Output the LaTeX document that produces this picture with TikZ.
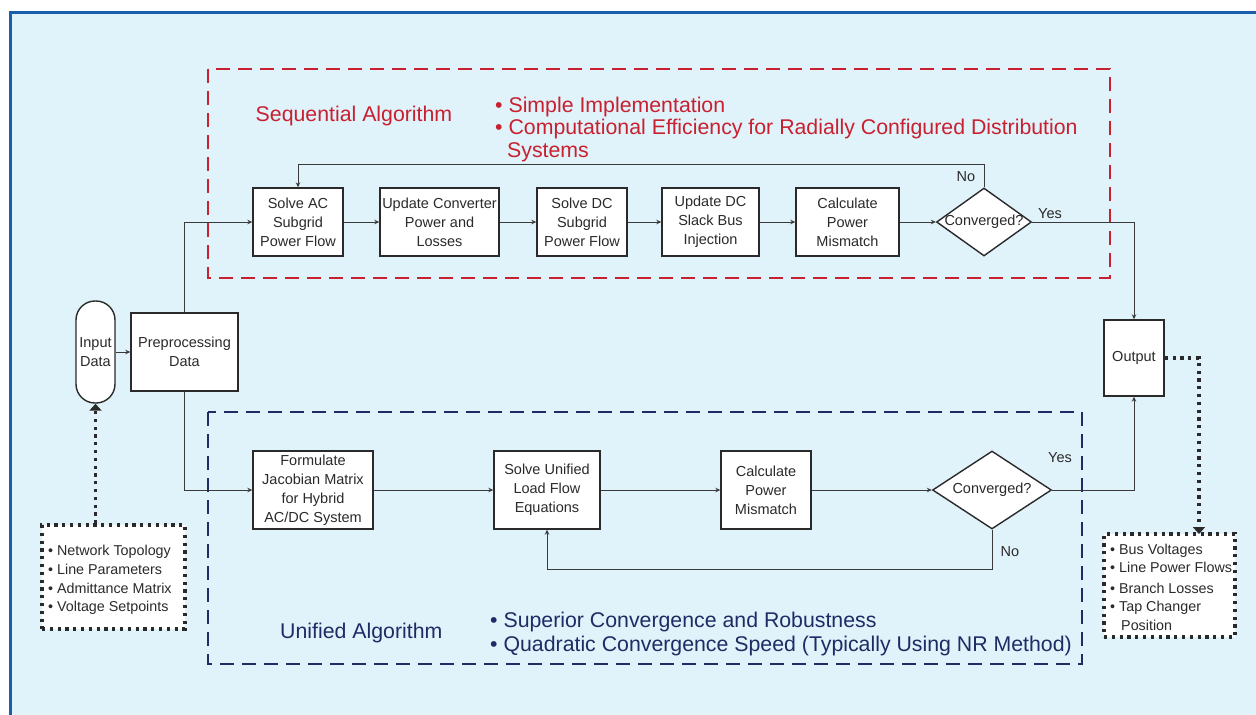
\documentclass[tikz,border=0pt]{standalone}
\usepackage{fontspec}
\setmainfont{Liberation Sans}
\usetikzlibrary{arrows.meta,shapes.geometric}
\definecolor{bgblue}{HTML}{E0F2FA}
\definecolor{frameblue}{HTML}{1B5EAB}
\definecolor{seqred}{HTML}{C8202F}
\definecolor{uninavy}{HTML}{1E2C66}
\definecolor{ink}{HTML}{2A2A2A}
\definecolor{wire}{HTML}{3A3A3A}
\begin{document}
\begin{tikzpicture}[x=1pt,y=-1pt,
  box/.style={draw=ink, fill=white, line width=1.4pt, align=center, inner sep=0pt, text=ink, font=\fontsize{14.5}{19}\selectfont},
  dia/.style={diamond, draw=ink, fill=white, line width=1.4pt, inner sep=0pt},
  lbl/.style={text=ink, font=\fontsize{14.5}{19}\selectfont, inner sep=0pt},
  listtxt/.style={text=ink, font=\fontsize{14.3}{19}\selectfont, inner sep=0pt, anchor=base west},
  arr/.style={draw=wire, line width=0.9pt, -{Stealth[length=5pt,width=4.5pt]}},
  dotline/.style={draw=ink, line width=3.2pt, dash pattern=on 3.2pt off 4.6pt},
  dotarr/.style={dotline, -{Triangle[length=7pt,width=12pt]}},
  dotbox/.style={dotline, fill=white, inner sep=0pt},
  redtxt/.style={text=seqred, font=\fontsize{21.3}{23}\selectfont, inner sep=0pt, anchor=base west},
  bluetxt/.style={text=uninavy, font=\fontsize{21.3}{23}\selectfont, inner sep=0pt, anchor=base west},
  reddash/.style={draw=seqred, line width=2pt, dash pattern=on 14pt off 8pt},
  bluedash/.style={draw=uninavy, line width=2pt, dash pattern=on 14pt off 8pt}
]
\useasboundingbox (0,0) rectangle (1256,715);
% background frame
\fill[bgblue] (10,12) rectangle (1256,715);
\draw[frameblue, line width=2.6pt] (10.5,715) -- (10.5,12.5) -- (1256,12.5);

% group frames
\draw[reddash] (208,69) rectangle (1110,278);
\draw[bluedash] (208,412) rectangle (1082,664);

% group titles and notes
\node[redtxt, anchor=base] (seqt) at (354,121) {Sequential Algorithm};
\node[redtxt] (seq1) at (495,112) {\textbullet\ Simple Implementation};
\node[redtxt] (seq2) at (495,134) {\textbullet\ Computational Efficiency for Radially Configured Distribution};
\node[redtxt] (seq3) at (507,157) {Systems};

\node[bluetxt] (unit) at (280,638) {Unified Algorithm};
\node[bluetxt] (uni1) at (490,627) {\textbullet\ Superior Convergence and Robustness};
\node[bluetxt] (uni2) at (490,651) {\textbullet\ Quadratic Convergence Speed (Typically Using NR Method)};

% left part
\node[box, rounded corners=19pt, minimum width=39pt, minimum height=102pt] (inp) at (95.5,352) {Input\\Data};
\node[box, minimum width=107pt, minimum height=78pt] (pre) at (184.5,352) {Preprocessing\\Data};
\node[dotbox, minimum width=143pt, minimum height=104pt] (inlist) at (113.5,577) {};
\node[listtxt] (in1) at (48,555) {\textbullet\ Network Topology};
\node[listtxt] (in2) at (48,574) {\textbullet\ Line Parameters};
\node[listtxt] (in3) at (48,593) {\textbullet\ Admittance Matrix};
\node[listtxt] (in4) at (48,611) {\textbullet\ Voltage Setpoints};

% sequential row
\node[box, minimum width=90pt, minimum height=68pt] (sac) at (298,222) {Solve AC\\Subgrid\\Power Flow};
\node[box, minimum width=119pt, minimum height=68pt] (ucp) at (439.5,222) {Update Converter\\Power and\\Losses};
\node[box, minimum width=90pt, minimum height=68pt] (sdc) at (582,222) {Solve DC\\Subgrid\\Power Flow};
\node[box, minimum width=97pt, minimum height=68pt] (udc) at (710.5,222) {Update DC\\Slack Bus\\Injection};
\node[box, minimum width=103pt, minimum height=68pt] (cpa) at (847.5,222) {Calculate\\Power\\Mismatch};
\node[dia, minimum width=95pt, minimum height=68pt] (cva) at (984,222) {};
\node[lbl] (cvat) at (cva.center) {Converged?};

% unified row
\node[box, minimum width=120pt, minimum height=78pt] (form) at (313,490) {Formulate\\Jacobian Matrix\\for Hybrid\\AC/DC System};
\node[box, minimum width=106pt, minimum height=78pt] (suf) at (547,490) {Solve Unified\\Load Flow\\Equations};
\node[box, minimum width=90pt, minimum height=78pt] (cpb) at (766,490) {Calculate\\Power\\Mismatch};
\node[dia, minimum width=119pt, minimum height=78pt] (cvb) at (992,490) {};
\node[lbl] (cvbt) at (cvb.center) {Converged?};

% output
\node[box, minimum width=60pt, minimum height=76pt] (out) at (1134,358) {Output};
\node[dotbox, minimum width=131pt, minimum height=103pt] (outlist) at (1169.5,585.5) {};
\node[listtxt] (o1) at (1110,554) {\textbullet\ Bus Voltages};
\node[listtxt] (o2) at (1110,572) {\textbullet\ Line Power Flows};
\node[listtxt] (o3) at (1110,593) {\textbullet\ Branch Losses};
\node[listtxt] (o4) at (1110,611) {\textbullet\ Tap Changer};
\node[listtxt] (o5) at (1121,630) {Position};
\coordinate (otgt) at (1199,534);

% connectors
\draw[arr] (inp.east) -- (pre.west);
\draw[arr] (pre.north) |- (sac.west);
\draw[arr] (pre.south) |- (form.west);
\draw[arr] (sac) -- (ucp);
\draw[arr] (ucp) -- (sdc);
\draw[arr] (sdc) -- (udc);
\draw[arr] (udc) -- (cpa);
\draw[arr] (cpa) -- (cva.west);
\draw[arr] (cva.north) -- ++(0,-23) -| (sac.north);
\node[lbl] (noa) at (966,177) {No};
\draw[arr] (cva.east) -| (out.north);
\node[lbl] (yesa) at (1050,214) {Yes};

\draw[arr] (form) -- (suf);
\draw[arr] (suf) -- (cpb);
\draw[arr] (cpb) -- (cvb.west);
\draw[arr] (cvb.south) -- ++(0,40) -| (suf.south);
\node[lbl] (nob) at (1010,552) {No};
\draw[arr] (cvb.east) -| (out.south);
\node[lbl] (yesb) at (1060,458) {Yes};

% dotted data links
\draw[dotarr] (inp.south |- inlist.north) -- (inp.south);
\draw[dotarr] (out.east) -| (otgt);
\end{tikzpicture}
\end{document}
